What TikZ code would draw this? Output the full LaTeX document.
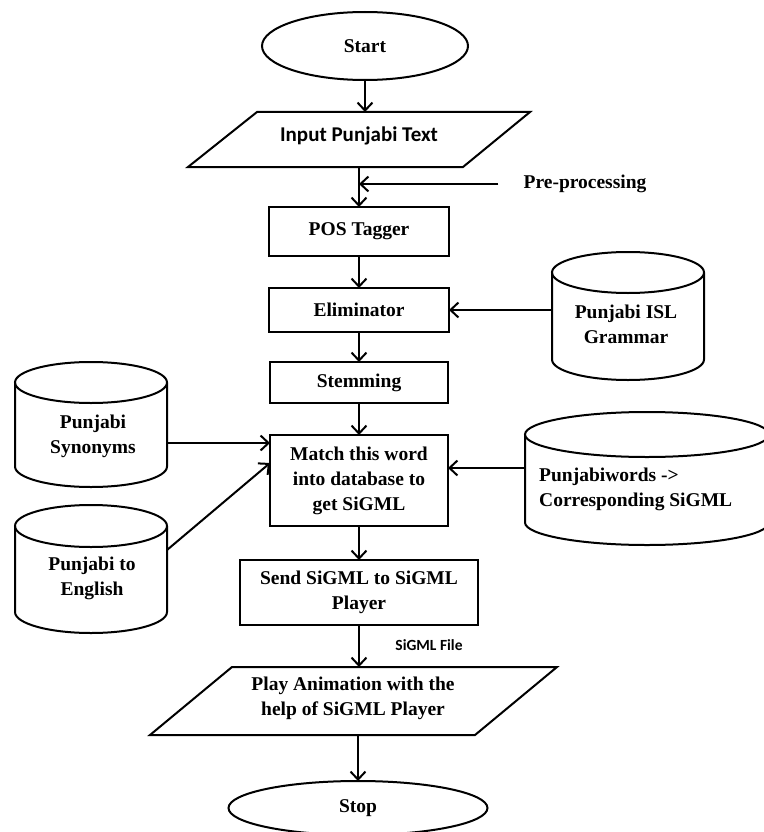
\documentclass[tikz,border=0pt]{standalone}
\usepackage{fontspec}
\setmainfont{Liberation Serif}
\newfontfamily\calfont{Carlito}
\usetikzlibrary{arrows.meta,shapes.geometric}
\tikzset{
  ln/.style={line width=2pt, line join=miter},
  lbl/.style={font=\bfseries\fontsize{19.5}{25}\selectfont, align=center, inner sep=0pt},
  box/.style={ln, draw, rectangle, inner sep=0pt, outer sep=0pt, align=center, font=\bfseries\fontsize{19.5}{25}\selectfont},
  term/.style={ln, draw, ellipse, inner sep=0pt, outer sep=0pt, font=\bfseries\fontsize{19.5}{25}\selectfont},
  hold/.style={rectangle, draw=none, inner sep=0pt, outer sep=0pt},
  arr/.style={ln, -{Straight Barb[length=8pt,width=15pt]}}
}
\begin{document}
\begin{tikzpicture}[x=1pt,y=-1pt]
\useasboundingbox (0,0) rectangle (763,832);
\fill[white] (0,0) rectangle (763,832);

% terminals
\node[term, minimum width=206pt, minimum height=68pt] (start) at (365,46) {Start};
\node[term, minimum width=259pt, minimum height=54pt] (stop) at (358,808) {Stop};

% input parallelogram
\node[hold, minimum width=342pt, minimum height=55pt] (inp) at (359,139.5) {};
\draw[ln] ([xshift=69pt]inp.north west) -- (inp.north east) -- ([xshift=-67pt]inp.south east) -- (inp.south west) -- cycle;
\node[inner sep=0pt, font=\calfont\bfseries\fontsize{21}{25}\selectfont] (inpt) at (359,136) {Input Punjabi Text};

% process boxes
\node[box, minimum width=180pt, minimum height=49pt] (pos) at (359,231.5) {POS Tagger};
\node[box, minimum width=180pt, minimum height=44pt] (elim) at (359,310) {Eliminator};
\node[box, minimum width=178pt, minimum height=41pt] (stem) at (359,382.5) {Stemming};
\node[box, minimum width=178pt, minimum height=91pt] (match) at (359,480.5) {Match this word\\into database to\\get SiGML};
\node[box, minimum width=238pt, minimum height=65pt] (send) at (359,592.5) {Send SiGML to SiGML\\Player};

% output parallelogram
\node[hold, minimum width=407pt, minimum height=68pt] (play) at (353.5,701) {};
\draw[ln] ([xshift=82pt]play.north west) -- (play.north east) -- ([xshift=-82pt]play.south east) -- (play.south west) -- cycle;
\node[lbl] (playt) at (353,698) {Play Animation with the\\help of SiGML Player};

% cylinders
\node[hold, minimum width=152pt, minimum height=125pt] (syn) at (91,424.5) {};
\draw[ln] (15,382.5) -- (15,466.5) arc[start angle=180,end angle=360,x radius=76pt,y radius=20.5pt] -- (167,382.5);
\draw[ln] (91,382.5) ellipse[x radius=76pt,y radius=20.5pt];
\node[lbl] (synt) at (93,436) {Punjabi\\Synonyms};

\node[hold, minimum width=152pt, minimum height=128pt] (eng) at (91,569) {};
\draw[ln] (15,526) -- (15,612) arc[start angle=180,end angle=360,x radius=76pt,y radius=21pt] -- (167,526);
\draw[ln] (91,526) ellipse[x radius=76pt,y radius=21pt];
\node[lbl] (engt) at (92,578) {Punjabi to\\English};

\node[hold, minimum width=152pt, minimum height=128pt] (gram) at (628,316) {};
\draw[ln] (552,272.5) -- (552,359.5) arc[start angle=180,end angle=360,x radius=76pt,y radius=20.5pt] -- (704,272.5);
\draw[ln] (628,272.5) ellipse[x radius=76pt,y radius=20.5pt];
\node[lbl] (gramt) at (626,324.5) {Punjabi ISL\\Grammar};

\node[hold, minimum width=244pt, minimum height=133pt] (words) at (647,478.5) {};
\draw[ln] (525,434.5) -- (525,522.5) arc[start angle=180,end angle=360,x radius=122pt,y radius=22.5pt] -- (769,434.5);
\draw[ln] (647,434.5) ellipse[x radius=122pt,y radius=22.5pt];
\node[lbl, align=left, anchor=west] (wordst) at (539,489.5) {Punjabiwords ->\\Corresponding SiGML};

% side labels
\node[lbl] (pre) at (585,184) {Pre-processing};
\node[inner sep=0pt, font=\calfont\bfseries\fontsize{15.5}{18}\selectfont] (file) at (429,645) {SiGML File};

% connectors
\draw[arr] (start.south) -- (start.south |- inp.north);
\draw[arr] (inp.south -| pos.north) -- (pos.north);
\draw[arr] ([xshift=-25pt]pre.west) -- (pre.west -| pos.north);
\draw[arr] (pos.south) -- (pos.south |- elim.north);
\draw[arr] (elim.east -| gram.west) -- (elim.east);
\draw[arr] (elim.south) -- (elim.south |- stem.north);
\draw[arr] (stem.south) -- (stem.south |- match.north);
\draw[arr] ([yshift=-18.5pt]syn.east) -- ([yshift=-18.5pt]syn.east -| match.west);
\draw[arr] ([yshift=19pt]eng.east) -- ([yshift=17.5pt]match.west);
\draw[arr] ([yshift=10.5pt]words.west) -- ([yshift=10.5pt]words.west -| match.east);
\draw[arr] (match.south) -- (match.south |- send.north);
\draw[arr] (send.south) -- (send.south |- play.north);
\draw[arr] (stop.north |- play.south) -- (stop.north);
\end{tikzpicture}
\end{document}
